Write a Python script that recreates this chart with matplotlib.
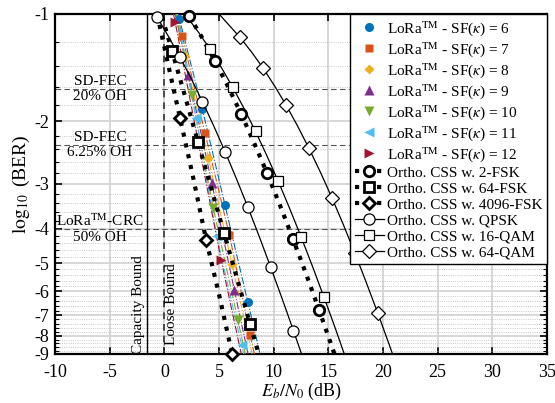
import matplotlib
matplotlib.use('Agg')
import matplotlib.pyplot as plt
import numpy as np
from matplotlib.ticker import FixedLocator, FuncFormatter, NullLocator

plt.rcParams['font.family'] = ['Liberation Serif', 'DejaVu Serif']
plt.rcParams['mathtext.fontset'] = 'stix'
plt.rcParams['axes.unicode_minus'] = False

# LoRa curves, Eb/N0 (dB) and log10(BER); first and last point only carry the line
sf_list = [6, 7, 8, 9, 10, 11, 12]
sf6_eb = [1.25, 1.37, 3.48, 5.55, 7.63, 8.9]
sf6_lg = [-1.0, -1.03, -1.85, -3.44, -6.42, -9.4]
sf7_eb = [1.17, 1.65, 3.72, 5.95, 7.85, 8.4]
sf7_lg = [-1.0, -1.155, -2.16, -4.17, -7.95, -9.5]
sf8_eb = [1.03, 1.89, 4.03, 6.17, 8.2]
sf8_lg = [-1.0, -1.31, -2.54, -5.02, -9.5]
sf9_eb = [1.01, 2.2, 4.34, 6.4, 7.8]
sf9_lg = [-1.0, -1.48, -2.98, -5.95, -9.44]
sf10_eb = [1.08, 2.5, 4.48, 6.72, 7.5]
sf10_lg = [-1.0, -1.69, -3.51, -7.21, -9.32]
sf11_eb = [1.2, 2.9, 4.79, 7.07, 7.4]
sf11_lg = [-1.0, -1.96, -4.2, -8.5, -9.41]
sf12_eb = [0.84, 0.98, 3.08, 5.19, 7.2]
sf12_lg = [-1.0, -1.05, -2.27, -4.9, -9.5]

# orthogonal CSS curves
fsk2_eb = [2.26, 3.45, 4.64, 5.83, 7.02, 8.21, 9.40, 10.59, 11.78, 12.97, 14.15, 15.35, 16.54]
fsk2_lg = [-1.01, -1.165, -1.356, -1.60, -1.906, -2.30, -2.80, -3.45, -4.29, -5.37, -6.77, -8.62, -11.0]
fsk64_eb = [-0.49, 0.7, 1.89, 3.08, 4.27, 5.46, 6.65, 7.84, 9.03]
fsk64_lg = [-0.95, -1.27, -1.70, -2.29, -3.07, -4.12, -5.52, -7.41, -9.94]
fsk4096_eb = [-0.66, 0.29, 1.44, 2.63, 3.82, 5.01, 6.2, 6.5]
fsk4096_lg = [-1.0, -1.36, -1.96, -2.87, -4.3, -6.14, -8.99, -9.9]
qpsk_eb = [-0.67, 0.37, 1.41, 2.45, 3.49, 4.53, 5.57, 6.61, 7.65, 8.69, 9.73, 10.77, 11.81, 12.85]
qpsk_lg = [-1.02, -1.155, -1.318, -1.517, -1.763, -2.065, -2.44, -2.908, -3.49, -4.22, -5.14, -6.29, -7.74, -9.57]
qam16_eb = [1.88, 3.14, 4.18, 5.22, 6.26, 7.30, 8.34, 9.38, 10.42, 11.46, 12.50, 13.54, 14.58, 15.62, 16.66]
qam16_lg = [-1.0, -1.127, -1.256, -1.414, -1.607, -1.844, -2.136, -2.499, -2.949, -3.513, -4.217, -5.10, -6.21, -7.60, -9.37]
qam64_eb = [5.0, 6.93, 7.98, 9.03, 10.08, 11.13, 12.18, 13.23, 14.28, 15.33, 16.38, 17.43, 18.48, 19.53, 20.58, 21.3]
qam64_lg = [-1.0, -1.164, -1.279, -1.419, -1.591, -1.801, -2.061, -2.383, -2.782, -3.281, -3.906, -4.69, -5.68, -6.92, -8.49, -9.81]

# thresholds
fec_ber = [2.4e-2, 4.7e-3, 1e-4]
fec_text = ['SD-FEC\n20% OH', 'SD-FEC\n6.25% OH', 'LoRa$^{\\rm TM}$-CRC\n50% OH']
capacity_db = -1.59
loose_db = 0.0

lora_colors = ['#0072BD', '#D95319', '#EDB120', '#7E2F8E', '#77AC30', '#4DBEEE', '#A2142F']
lora_markers = ['o', 's', 'D', '^', 'v', '<', '>']
lora_ms = [6.5, 5.5, 5.5, 6.5, 6.5, 6.5, 6.5]

fig = plt.figure(figsize=(5.55, 4.03), dpi=100)
ax = fig.add_axes([0.0991, 0.1216, 0.8865, 0.8437])

ax.set_yscale('log')
ax.set_xlim(-10, 35)
ax.set_ylim(9, 1)

def to_v(lg):
    return -np.asarray(lg, dtype=float)

handles = []
labels = []

# LoRa
lora_eb = [sf6_eb, sf7_eb, sf8_eb, sf9_eb, sf10_eb, sf11_eb, sf12_eb]
lora_lg = [sf6_lg, sf7_lg, sf8_lg, sf9_lg, sf10_lg, sf11_lg, sf12_lg]
for i in range(len(sf_list)):
    eb = np.array(lora_eb[i])
    v = to_v(lora_lg[i])
    ax.plot(eb, v, ls='-.', lw=0.8, color=lora_colors[i], zorder=3)
    mk, = ax.plot(eb[1:-1], v[1:-1], ls='none', marker=lora_markers[i], ms=lora_ms[i],
                  color=lora_colors[i], mec='none', clip_on=False, zorder=4)
    handles.append(mk)
    labels.append('LoRa$^{\\rm TM}$ - SF($\\kappa$) = %d' % sf_list[i])

def ortho(eb, lg, idx, ls, lw, marker, ms, mew, label):
    eb = np.array(eb)
    v = to_v(lg)
    ln, = ax.plot(eb, v, ls=ls, lw=lw, color='k', zorder=5)
    sel = [j for j in idx if 1 <= v[j] <= 9.05]
    mk, = ax.plot(eb[sel], v[sel], ls='none', marker=marker, ms=ms, mfc='white',
                  mec='k', mew=mew, clip_on=False, zorder=6)
    handles.append((ln, mk))
    labels.append(label)

ortho(fsk2_eb, fsk2_lg, range(0, 13, 2), ':', 3, 'o', 7.5, 2.0, 'Ortho. CSS w. 2-FSK')
ortho(fsk64_eb, fsk64_lg, range(1, 9, 2), ':', 3, 's', 6.5, 2.0, 'Ortho. CSS w. 64-FSK')
ortho(fsk4096_eb, fsk4096_lg, [2, 4, 6], ':', 3, 'D', 6.0, 2.0, 'Ortho. CSS w. 4096-FSK')
ortho(qpsk_eb, qpsk_lg, range(0, 14, 2), '-', 0.9, 'o', 8, 0.9, 'Ortho. CSS w. QPSK')
ortho(qam16_eb, qam16_lg, range(2, 15, 2), '-', 0.9, 's', 7.5, 0.9, 'Ortho. CSS w. 16-QAM')
ortho(qam64_eb, qam64_lg, range(1, 14, 2), '-', 0.9, 'D', 7.5, 0.9, 'Ortho. CSS w. 64-QAM')

# thresholds and bounds
for b, t in zip(fec_ber, fec_text):
    yv = -np.log10(b)
    ax.axhline(yv, color='#555555', lw=0.8, ls=(0, (5, 3)), zorder=2)
    ax.text(-5.9, yv, t, ha='center', va='center', fontsize=11, zorder=2)

ax.axvline(capacity_db, color='k', lw=1.0, zorder=2)
ax.axvline(loose_db, color='#333333', lw=1.2, ls=(0, (4, 3)), zorder=2)
ax.text(-2.4, 8.98, 'Capacity Bound', rotation=90, ha='center', va='bottom', fontsize=11)
ax.text(0.7, 8.5, 'Loose Bound', rotation=90, ha='center', va='bottom', fontsize=11)

# axes format
ax.yaxis.set_major_locator(FixedLocator(np.arange(1, 10)))
ax.yaxis.set_minor_locator(FixedLocator(np.arange(1.2, 9, 0.2)))
ax.yaxis.set_major_formatter(FuncFormatter(lambda y, p: '%d' % (-round(y))))
ax.yaxis.set_minor_formatter(FuncFormatter(lambda y, p: ''))
ax.set_xticks(np.arange(-10, 36, 5))
ax.xaxis.set_minor_locator(NullLocator())

ax.grid(True, which='major', color='#d4d4d4', lw=1.3, ls='-', zorder=0)
ax.grid(True, which='minor', axis='y', color='#b8b8b8', lw=0.6, ls=':', zorder=0)
ax.set_axisbelow(True)

ax.tick_params(which='both', direction='in', top=True, right=True, labelsize=13, width=1.2)
ax.tick_params(which='major', length=5)
ax.tick_params(which='minor', length=3, width=0.8)
ax.tick_params(axis='x', pad=7)
ax.tick_params(axis='y', pad=4)
for s in ax.spines.values():
    s.set_linewidth(1.6)

ax.set_xlabel('$E_b/N_0$ (dB)', fontsize=13, labelpad=0)
ax.set_ylabel('$\\log_{10}$ (BER)', fontsize=14, labelpad=2)

leg = ax.legend(handles, labels, loc='upper right', fontsize=11, numpoints=1,
                borderaxespad=0, labelspacing=0.14, handlelength=1.9, handletextpad=0.2,
                borderpad=0.3, fancybox=False, framealpha=1, edgecolor='k')
leg.get_frame().set_linewidth(1.0)
leg.set_zorder(10)

fig.savefig('out.png', dpi=100)
